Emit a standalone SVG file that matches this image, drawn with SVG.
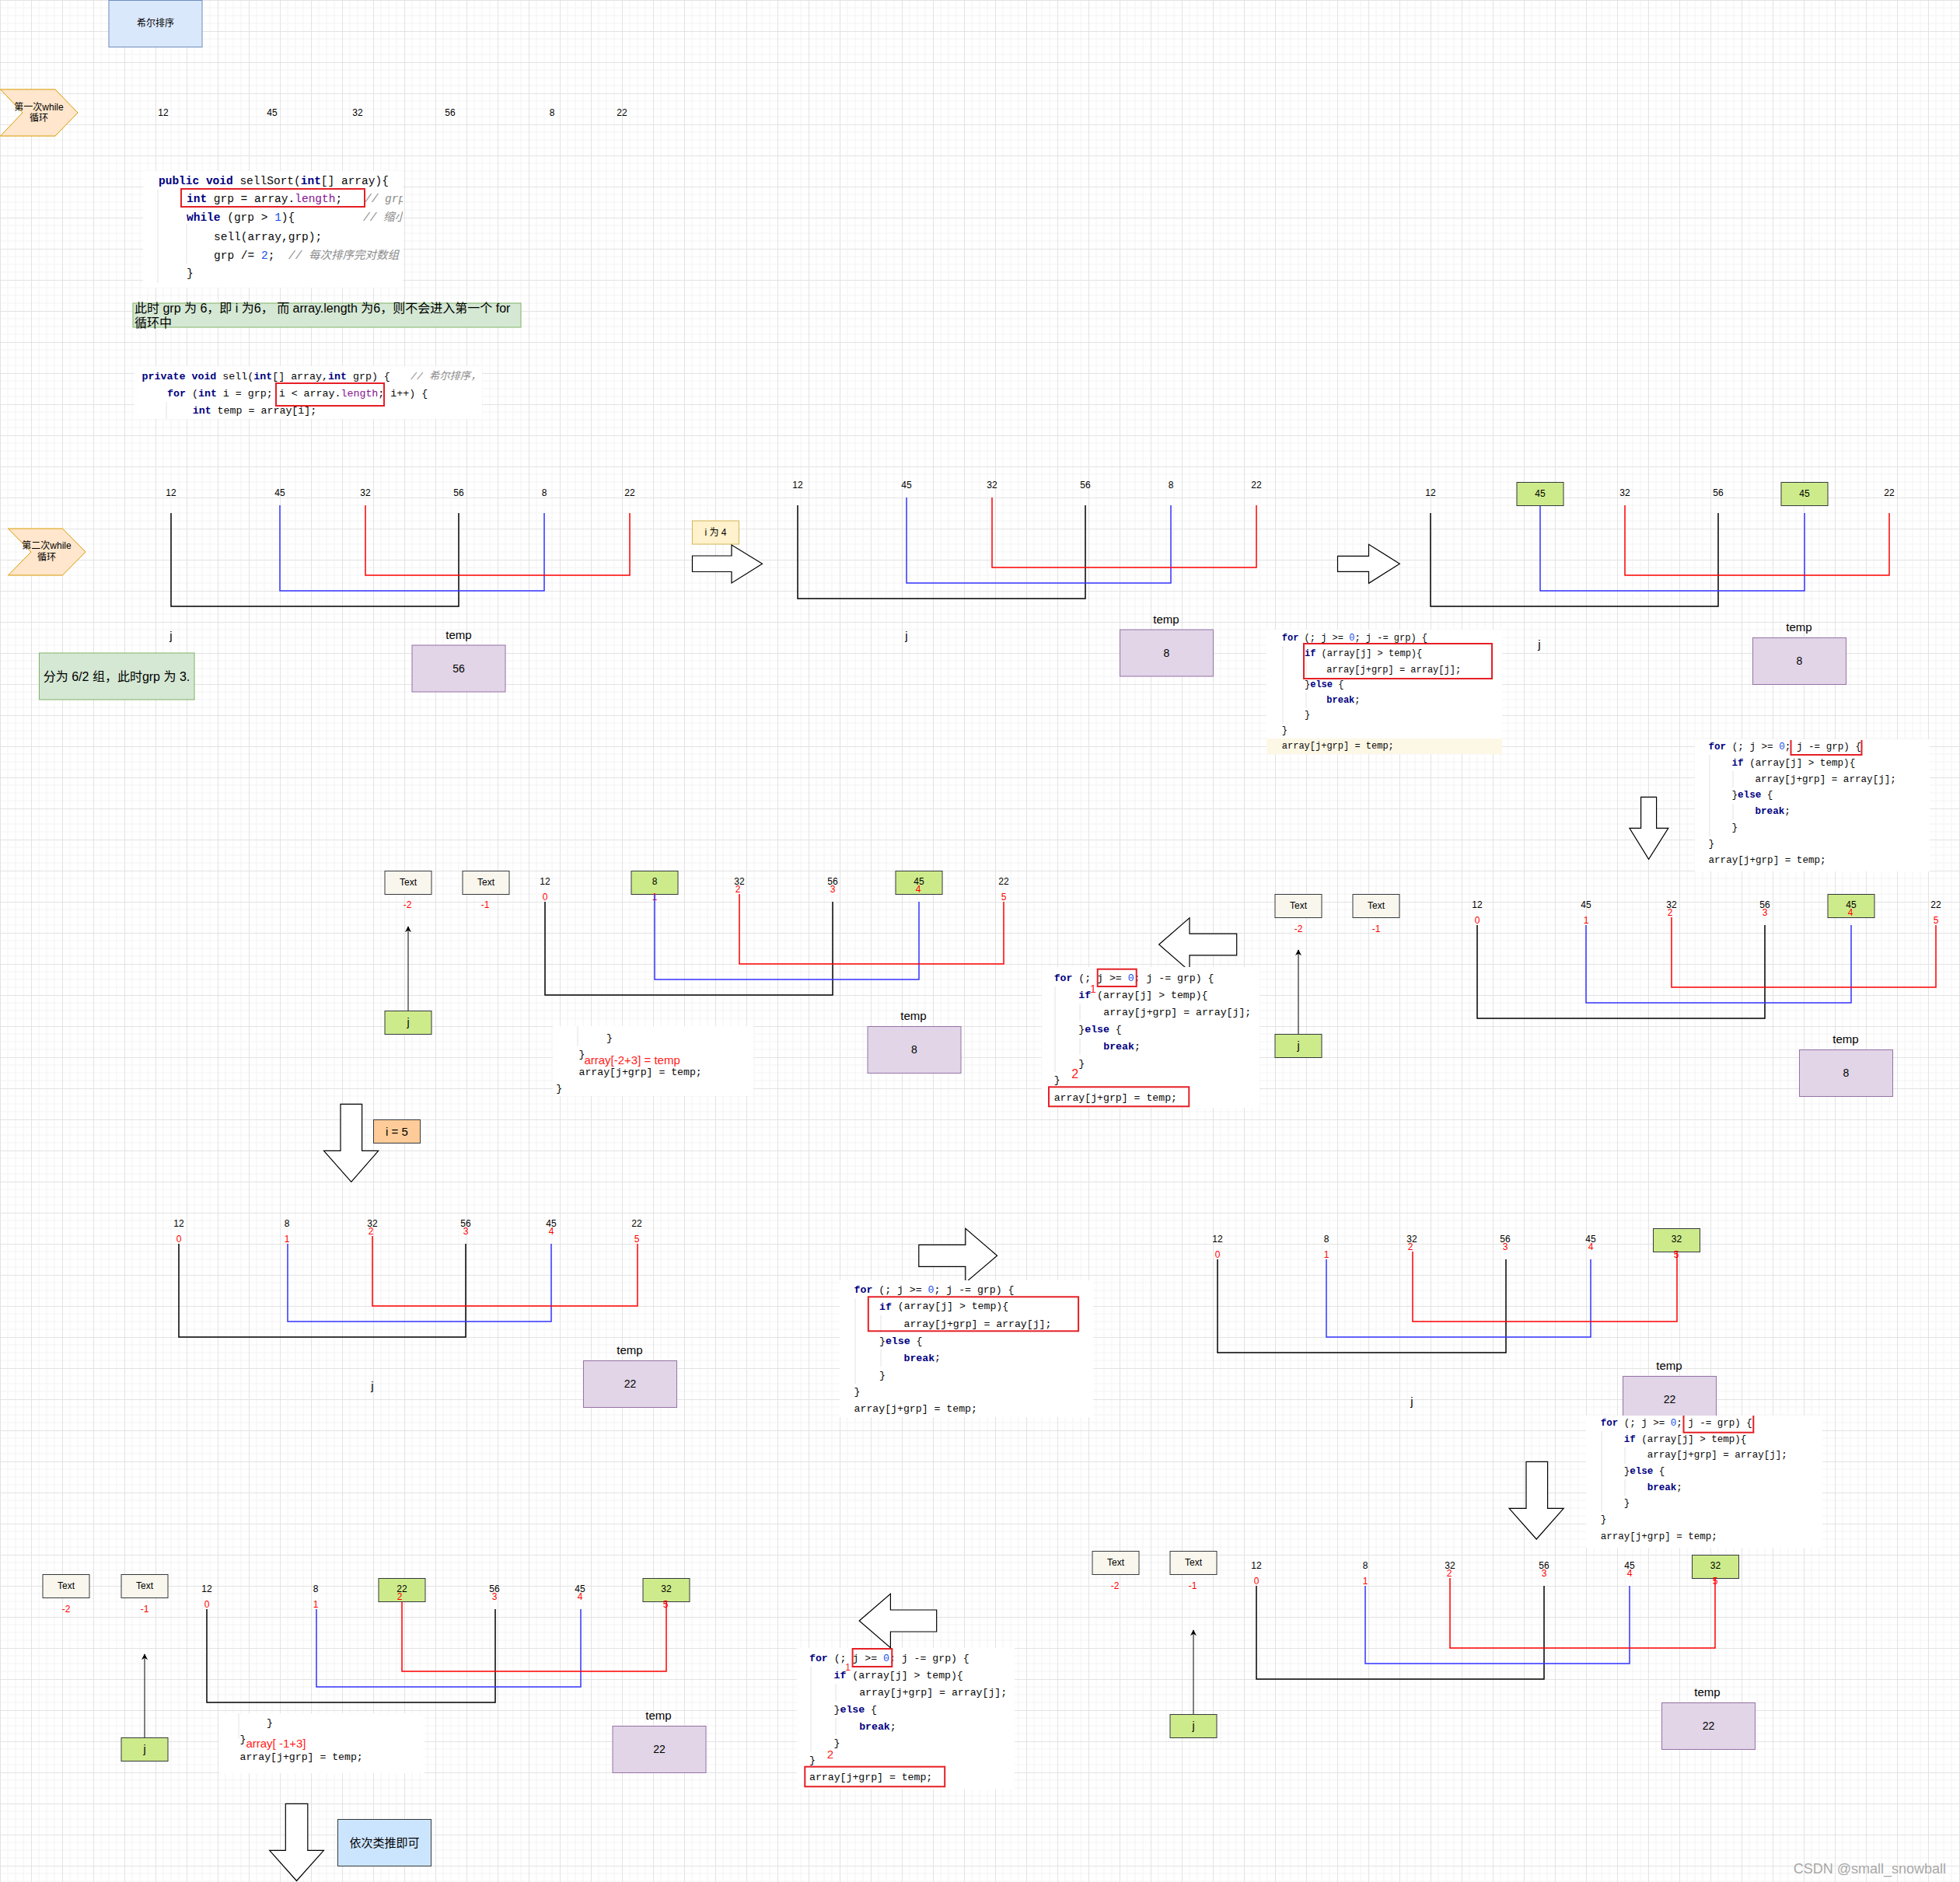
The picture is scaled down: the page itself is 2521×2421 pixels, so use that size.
<svg xmlns="http://www.w3.org/2000/svg" width="2521" height="2421" viewBox="0 0 2521 2421">
<style>
text{font-family:"Liberation Sans","Noto Sans CJK SC",sans-serif;dominant-baseline:central;fill:#000}
.l{font-size:12px;text-anchor:middle}
.ix{font-size:12px;fill:#ff0000;text-anchor:middle}
.lg{font-size:15px;text-anchor:middle}
.v{font-size:14px;text-anchor:middle}
.nt{font-size:16px}
.c{font-family:"Liberation Mono","Noto Sans CJK SC",monospace;fill:#080808;white-space:pre}
.k{fill:#000080;font-weight:bold}
.n{fill:#1750eb}
.p{fill:#871094}
.cm{fill:#8c8c8c;font-style:italic}
.rt{fill:#ff2020}
.tmp{fill:#e1d5e7;stroke:#9673a6}
.gr{fill:#cdeb8b;stroke:#36393d}
.tx{fill:#f9f7ed;stroke:#36393d}
.bk{fill:#fff}
.rb{fill:none;stroke:#e51f25;stroke-width:2}
.arr{fill:#fff;stroke:#000;stroke-width:1.2}
.gd{stroke:#e2e2e2;stroke-width:1;fill:none}
.lk{fill:none;stroke:#000;stroke-width:1.5}
.lb{fill:none;stroke:#3333ff;stroke-width:1.5}
.lr{fill:none;stroke:#ff0000;stroke-width:1.5}
.ln{fill:none;stroke:#000;stroke-width:1}
</style>
<defs>
<pattern id="grid" width="40" height="40" patternUnits="userSpaceOnUse">
<path d="M10 0V40M20 0V40M30 0V40M0 10H40M0 20H40M0 30H40" stroke="#f3f3f3" stroke-width="1" fill="none"/>
<path d="M0.5 0V40M0 0.5H40" stroke="#e3e3e3" stroke-width="1" fill="none"/>
</pattern>
<marker id="ah" viewBox="0 0 10 10" refX="9" refY="5" markerWidth="8" markerHeight="8" markerUnits="userSpaceOnUse" orient="auto"><path d="M0,0 L10,5 L0,10 L3,5 z" fill="#000"/></marker>
<clipPath id="cp1"><rect x="184" y="220" width="334" height="150"/></clipPath>
<clipPath id="cp2"><rect x="173" y="471" width="447" height="68"/></clipPath>
</defs>
<rect width="2521" height="2421" fill="#fff"/>
<rect width="2521" height="2421" fill="url(#grid)"/>

<!-- Title and first while -->
<g id="title"><rect x="140" y="0.5" width="120" height="60" fill="#dae8fc" stroke="#6c8ebf"/><text class="l" x="200" y="30">希尔排序</text></g>
<g id="while1"><path d="M0.5,115 H71 L100,145 L71,175 H0.5 L29,145 Z" fill="#ffe6cc" stroke="#d79b00"/><text class="l" x="50" y="138">第一次while</text><text class="l" x="50" y="152">循环</text></g>
<g id="row1">
<text class="l" x="210" y="145">12</text><text class="l" x="350" y="145">45</text><text class="l" x="460" y="145">32</text><text class="l" x="579" y="145">56</text><text class="l" x="710" y="145">8</text><text class="l" x="800" y="145">22</text>
</g>

<g id="code1">
<rect class="bk" x="184" y="220" width="334" height="150"/>
<path class="gd" d="M240,288V340M203,244V364"/>
<g clip-path="url(#cp1)" font-size="14.5">
<text class="c" x="204" y="232.6"><tspan class="k">public void</tspan> sellSort(<tspan class="k">int</tspan>[] array){</text>
<text class="c" x="240" y="256"><tspan class="k">int</tspan> grp = array.<tspan class="p">length</tspan>;</text>
<text class="c cm" x="469" y="256">// grp</text>
<text class="c" x="240" y="280"><tspan class="k">while</tspan> (grp &gt; <tspan class="n">1</tspan>){</text>
<text class="c cm" x="467" y="280">// 缩小</text>
<text class="c" x="275" y="305">sell(array,grp);</text>
<text class="c" x="275" y="329">grp /= <tspan class="n">2</tspan>;</text>
<text class="c cm" x="371" y="329">// 每次排序完对数组</text>
<text class="c" x="240" y="352">}</text>
</g>
<rect class="rb" x="233" y="243" width="236" height="23"/>
</g>

<g id="note1"><rect x="171" y="390" width="499" height="31" fill="#d5e8d4" stroke="#82b366"/><text class="nt" x="173" y="396">此时 grp 为 6，即 i 为6， 而 array.length 为6，则不会进入第一个 for</text><text class="nt" x="173" y="415.6">循环中</text></g>

<g id="code2">
<rect class="bk" x="173" y="471" width="447" height="68"/>
<path class="gd" d="M214,517V539"/>
<g clip-path="url(#cp2)" font-size="13.3">
<text class="c" x="182.6" y="484"><tspan class="k">private void</tspan> sell(<tspan class="k">int</tspan>[] array,<tspan class="k">int</tspan> grp) {</text>
<text class="c cm" x="528" y="484">// 希尔排序，</text>
<text class="c" x="215" y="506"><tspan class="k">for</tspan> (<tspan class="k">int</tspan> i = grp; i &lt; array.<tspan class="p">length</tspan>; i++) {</text>
<text class="c" x="247.7" y="528"><tspan class="k">int</tspan> temp = array[i];</text>
</g>
<rect class="rb" x="355" y="493" width="139" height="29"/>
</g>

<!-- Row 2 -->
<g id="while2"><path d="M10.5,680 H80.5 L110,710 L80.5,740 H10.5 L40,710 Z" fill="#ffe6cc" stroke="#d79b00"/><text class="l" x="60" y="702">第二次while</text><text class="l" x="60" y="717">循环</text></g>

<g id="r2a">
<text class="l" x="220" y="634">12</text><text class="l" x="360" y="634">45</text><text class="l" x="470" y="634">32</text><text class="l" x="590" y="634">56</text><text class="l" x="700" y="634">8</text><text class="l" x="810" y="634">22</text>
<text class="lg" x="220" y="817">j</text><text class="lg" x="590" y="816">temp</text>
</g>
<g id="r2a-temp"><rect class="tmp" x="530" y="830" width="120" height="60"/><text class="v" x="590" y="860">56</text></g>
<g id="note2"><rect x="50.5" y="840" width="199.5" height="60" fill="#d5e8d4" stroke="#82b366"/><text class="nt" x="150" y="870" text-anchor="middle">分为 6/2 组，此时grp 为 3.</text></g>

<g id="i4"><rect x="890.5" y="670" width="60" height="30" fill="#fff2cc" stroke="#d6b656"/><text class="l" x="920.5" y="685">i 为 4</text></g>
<g id="arrowR1"><path class="arr" d="M890.5,715 H941 V701 L980.5,725.3 L941,750 V735.5 H890.5 Z"/></g>
<g id="r2b">
<text class="l" x="1026" y="624">12</text><text class="l" x="1166" y="624">45</text><text class="l" x="1276" y="624">32</text><text class="l" x="1396" y="624">56</text><text class="l" x="1506" y="624">8</text><text class="l" x="1616" y="624">22</text>
<text class="lg" x="1166" y="817">j</text><text class="lg" x="1500" y="796">temp</text>
</g>
<g id="r2b-temp"><rect class="tmp" x="1440.5" y="810" width="120" height="60"/><text class="v" x="1500.5" y="840">8</text></g>

<g id="arrowR2"><path class="arr" d="M1720.5,715.3 H1760.5 V700.3 L1800.3,725.3 L1760.5,750.3 V735.3 H1720.5 Z"/></g>
<g id="r2c">
<text class="l" x="1840" y="634">12</text><text class="l" x="2090" y="634">32</text><text class="l" x="2210" y="634">56</text><text class="l" x="2430" y="634">22</text>
<text class="lg" x="1980" y="828">j</text><text class="lg" x="2314" y="806">temp</text>
</g>
<g id="r2c-b45a"><rect class="gr" x="1951" y="620.5" width="60" height="30"/><text class="l" x="1981" y="635">45</text></g>
<g id="r2c-b45b"><rect class="gr" x="2291" y="620.5" width="60" height="30"/><text class="l" x="2321" y="635">45</text></g>
<g id="r2c-temp"><rect class="tmp" x="2254.5" y="820.5" width="120" height="60"/><text class="v" x="2314.5" y="850">8</text></g>

<g id="codeA" font-size="12">
<rect class="bk" x="1629" y="810" width="303" height="160"/>
<rect x="1629" y="950" width="303" height="20" fill="#fdf8e6"/>
<path class="gd" d="M1650,831V931M1680,851V872M1680,891V911"/>
<text class="c" x="1648.8" y="821"><tspan class="k">for</tspan> (; j &gt;= <tspan class="n">0</tspan>; j -= grp) {</text>
<text class="c" x="1678" y="841"><tspan class="k">if</tspan> (array[j] &gt; temp){</text>
<text class="c" x="1706.3" y="861.7">array[j+grp] = array[j];</text>
<text class="c" x="1678" y="881">}<tspan class="k">else</tspan> {</text>
<text class="c" x="1706.3" y="901"><tspan class="k">break</tspan>;</text>
<text class="c" x="1678" y="920">}</text>
<text class="c" x="1648.8" y="940">}</text>
<text class="c" x="1648.8" y="960">array[j+grp] = temp;</text>
<rect class="rb" x="1677" y="828" width="242" height="45"/>
</g>

<g id="codeB" font-size="12.6">
<rect class="bk" x="2180" y="951" width="302" height="170"/>
<path class="gd" d="M2199,971V1076M2229,992V1013M2229,1034V1055"/>
<text class="c" x="2197.5" y="961"><tspan class="k">for</tspan> (; j &gt;= <tspan class="n">0</tspan>; j -= grp) {</text>
<text class="c" x="2227.5" y="981.7"><tspan class="k">if</tspan> (array[j] &gt; temp){</text>
<text class="c" x="2257.5" y="1002.7">array[j+grp] = array[j];</text>
<text class="c" x="2227.5" y="1023.3">}<tspan class="k">else</tspan> {</text>
<text class="c" x="2257.5" y="1044.3"><tspan class="k">break</tspan>;</text>
<text class="c" x="2227.5" y="1065">}</text>
<text class="c" x="2197.5" y="1085.7">}</text>
<text class="c" x="2197.5" y="1106.7">array[j+grp] = temp;</text>
<path class="rb" d="M2303.5,952V971H2394.5V952"/>
</g>

<g id="arrowD1"><path class="arr" d="M2110.6,1025.3 H2130.6 V1065.3 H2145.8 L2120.6,1105.3 L2095.9,1065.3 H2110.6 Z"/></g>

<!-- Row 3 right -->
<g id="r3r-t1"><rect class="tx" x="1640" y="1150.5" width="60" height="30"/><text class="l" x="1670" y="1165">Text</text></g>
<g id="r3r-t2"><rect class="tx" x="1740" y="1150.5" width="60" height="30"/><text class="l" x="1770" y="1165">Text</text></g>
<g id="r3r-j"><rect class="gr" x="1640" y="1330.5" width="60" height="30"/><text class="v" x="1670" y="1345">j</text></g>
<g id="r3r">
<text class="ix" x="1670" y="1195">-2</text><text class="ix" x="1770" y="1195">-1</text>
<text class="l" x="1900" y="1164">12</text><text class="l" x="2040" y="1164">45</text><text class="l" x="2150" y="1164">32</text><text class="l" x="2270" y="1164">56</text><text class="l" x="2490" y="1164">22</text>
<text class="lg" x="2374" y="1336">temp</text>
</g>
<g id="r3r-b45"><rect class="gr" x="2351" y="1150.5" width="60" height="30"/><text class="l" x="2381" y="1164">45</text></g>
<g id="r3r-idx"><text class="ix" x="1900" y="1184">0</text><text class="ix" x="2040" y="1184">1</text><text class="ix" x="2148" y="1174">2</text><text class="ix" x="2270" y="1174">3</text><text class="ix" x="2380" y="1174">4</text><text class="ix" x="2490" y="1184">5</text></g>
<g id="r3r-temp"><rect class="tmp" x="2314.5" y="1350.5" width="120" height="60"/><text class="v" x="2374.5" y="1380">8</text></g>

<!-- Row 3 middle -->
<g id="arrowL1"><path class="arr" d="M1490.7,1215 L1530,1180.7 V1201.2 H1590.7 V1228.8 H1530 V1249.3 Z"/></g>
<g id="codeC" font-size="13.2">
<rect class="bk" x="1340" y="1244" width="280" height="181"/>
<path class="gd" d="M1357,1269V1379M1389,1291V1313M1389,1335V1357"/>
<text class="c" x="1355.7" y="1258.3"><tspan class="k">for</tspan> (; j &gt;= <tspan class="n">0</tspan>; j -= grp) {</text>
<text class="c" x="1387.3" y="1280"><tspan class="k">if</tspan> (array[j] &gt; temp){</text>
<text class="c" x="1419.3" y="1302.3">array[j+grp] = array[j];</text>
<text class="c" x="1387.3" y="1324">}<tspan class="k">else</tspan> {</text>
<text class="c" x="1419.3" y="1346"><tspan class="k">break</tspan>;</text>
<text class="c" x="1387.3" y="1368.3">}</text>
<text class="c" x="1355.7" y="1389.3">}</text>
<text class="c" x="1355.7" y="1412.7">array[j+grp] = temp;</text>
<rect class="rb" x="1411.7" y="1246.7" width="50" height="22.3"/>
<text class="rt" x="1406" y="1272" font-size="14" text-anchor="middle">1</text>
<text class="rt" x="1382.7" y="1381" font-size="16" text-anchor="middle">2</text>
<rect class="rb" x="1349" y="1398.3" width="180.3" height="25"/>
</g>

<!-- Row 3 left -->
<g id="r3l-t1"><rect class="tx" x="495" y="1120.5" width="60" height="30"/><text class="l" x="525" y="1135">Text</text></g>
<g id="r3l-t2"><rect class="tx" x="595" y="1120.5" width="60" height="30"/><text class="l" x="625" y="1135">Text</text></g>
<g id="r3l-j"><rect class="gr" x="495" y="1300.5" width="60" height="30"/><text class="v" x="525" y="1315">j</text></g>
<g id="r3l">
<text class="ix" x="524" y="1164">-2</text><text class="ix" x="624" y="1164">-1</text>
<text class="l" x="701" y="1134">12</text><text class="l" x="951" y="1134">32</text><text class="l" x="1071" y="1134">56</text><text class="l" x="1291" y="1134">22</text>
<text class="lg" x="1175" y="1306">temp</text>
</g>
<g id="r3l-b8"><rect class="gr" x="812" y="1120.5" width="60" height="30"/><text class="l" x="842" y="1134">8</text></g>
<g id="r3l-b45"><rect class="gr" x="1152" y="1120.5" width="60" height="30"/><text class="l" x="1182" y="1134">45</text></g>
<g id="r3l-idx"><text class="ix" x="701" y="1154">0</text><text class="ix" x="842" y="1154">1</text><text class="ix" x="949" y="1144">2</text><text class="ix" x="1071" y="1144">3</text><text class="ix" x="1181" y="1144">4</text><text class="ix" x="1291" y="1154">5</text></g>
<g id="r3l-temp"><rect class="tmp" x="1116" y="1320.5" width="120" height="60"/><text class="v" x="1176" y="1350">8</text></g>
<g id="codeD" font-size="13.2">
<rect class="bk" x="711" y="1320" width="258" height="90"/>
<path class="gd" d="M743,1320V1346"/>
<text class="c" x="780" y="1335">}</text>
<text class="c" x="744.5" y="1356.7">}</text>
<text class="rt" x="751.4" y="1363.3" font-size="15">array[-2+3] = temp</text>
<text class="c" x="744.5" y="1379.3">array[j+grp] = temp;</text>
<text class="c" x="715.2" y="1400">}</text>
</g>

<!-- Row 3 to 4 -->
<g id="arrowD2"><path class="arr" d="M438,1420.3 H465.6 V1480.3 H486.7 L451.8,1520.3 L416.5,1480.3 H438 Z"/></g>
<g id="i5"><rect x="480.5" y="1440.5" width="60" height="30" fill="#ffcc99" stroke="#36393d"/><text class="lg" x="510.5" y="1455">i = 5</text></g>

<!-- Row 4 left -->
<g id="r4l">
<text class="l" x="230" y="1574">12</text><text class="l" x="369" y="1574">8</text><text class="l" x="479" y="1574">32</text><text class="l" x="599" y="1574">56</text><text class="l" x="709" y="1574">45</text><text class="l" x="819" y="1574">22</text>
<text class="ix" x="230" y="1594">0</text><text class="ix" x="369" y="1594">1</text><text class="ix" x="477" y="1584">2</text><text class="ix" x="599" y="1584">3</text><text class="ix" x="709" y="1584">4</text><text class="ix" x="819" y="1594">5</text>
<text class="lg" x="479" y="1782">j</text><text class="lg" x="810" y="1736">temp</text>
</g>
<g id="r4l-temp"><rect class="tmp" x="750.5" y="1750.5" width="120" height="60"/><text class="v" x="810.5" y="1780">22</text></g>

<!-- Row 4 middle -->
<g id="arrowR3"><path class="arr" d="M1181.8,1601.3 H1241.8 V1580.3 L1282.5,1615.3 L1241.8,1650 V1629.3 H1181.8 Z"/></g>
<g id="codeE" font-size="13.2">
<rect class="bk" x="1080" y="1647" width="326" height="176"/>
<path class="gd" d="M1100,1670V1780M1133,1692V1714M1133,1736V1758"/>
<text class="c" x="1098.6" y="1659.3"><tspan class="k">for</tspan> (; j &gt;= <tspan class="n">0</tspan>; j -= grp) {</text>
<text class="c" x="1131" y="1680.7"><tspan class="k">if</tspan> (array[j] &gt; temp){</text>
<text class="c" x="1162.5" y="1703">array[j+grp] = array[j];</text>
<text class="c" x="1131" y="1725">}<tspan class="k">else</tspan> {</text>
<text class="c" x="1162.5" y="1746.7"><tspan class="k">break</tspan>;</text>
<text class="c" x="1131" y="1769">}</text>
<text class="c" x="1098.6" y="1790">}</text>
<text class="c" x="1098.6" y="1812.7">array[j+grp] = temp;</text>
<rect class="rb" x="1116.8" y="1668.3" width="270.3" height="44"/>
</g>

<!-- Row 4 right -->
<g id="r4r">
<text class="l" x="1566" y="1594">12</text><text class="l" x="1706" y="1594">8</text><text class="l" x="1816" y="1594">32</text><text class="l" x="1936" y="1594">56</text><text class="l" x="2046" y="1594">45</text>
<text class="lg" x="1816" y="1802">j</text><text class="lg" x="2147" y="1756">temp</text>
</g>
<g id="r4r-b32"><rect class="gr" x="2126.5" y="1580.5" width="60" height="30"/><text class="l" x="2156.5" y="1594">32</text></g>
<g id="r4r-idx"><text class="ix" x="1566" y="1614">0</text><text class="ix" x="1706" y="1614">1</text><text class="ix" x="1814" y="1604">2</text><text class="ix" x="1936" y="1604">3</text><text class="ix" x="2046" y="1604">4</text><text class="ix" x="2156" y="1614">5</text></g>
<g id="r4r-temp"><rect class="tmp" x="2087.5" y="1770.5" width="120" height="60"/><text class="v" x="2147.5" y="1800">22</text></g>
<g id="codeF" font-size="12.5">
<rect class="bk" x="2040" y="1821" width="304" height="170"/>
<path class="gd" d="M2060,1841V1945M2090,1862V1883M2090,1903V1924"/>
<text class="c" x="2058.8" y="1830.7"><tspan class="k">for</tspan> (; j &gt;= <tspan class="n">0</tspan>; j -= grp) {</text>
<text class="c" x="2088.8" y="1851.7"><tspan class="k">if</tspan> (array[j] &gt; temp){</text>
<text class="c" x="2118.8" y="1872.3">array[j+grp] = array[j];</text>
<text class="c" x="2088.8" y="1892.7">}<tspan class="k">else</tspan> {</text>
<text class="c" x="2118.8" y="1914"><tspan class="k">break</tspan>;</text>
<text class="c" x="2088.8" y="1934.3">}</text>
<text class="c" x="2058.8" y="1955.3">}</text>
<text class="c" x="2058.8" y="1976.7">array[j+grp] = temp;</text>
<path class="rb" d="M2165.5,1821V1842.7H2255.3V1821"/>
</g>
<g id="arrowD3"><path class="arr" d="M1963,1880.3 H1990.6 V1940.3 H2011.2 L1976.2,1980 L1941.1,1940.3 H1963 Z"/></g>

<!-- Row 5 right -->
<g id="r5r-t1"><rect class="tx" x="1405" y="1995.5" width="60" height="30"/><text class="l" x="1435" y="2010">Text</text></g>
<g id="r5r-t2"><rect class="tx" x="1505" y="1995.5" width="60" height="30"/><text class="l" x="1535" y="2010">Text</text></g>
<g id="r5r-j"><rect class="gr" x="1505" y="2205.5" width="60" height="30"/><text class="v" x="1535" y="2220">j</text></g>
<g id="r5r">
<text class="ix" x="1434" y="2040">-2</text><text class="ix" x="1534" y="2040">-1</text>
<text class="l" x="1616" y="2014">12</text><text class="l" x="1756" y="2014">8</text><text class="l" x="1865" y="2014">32</text><text class="l" x="1986" y="2014">56</text><text class="l" x="2096" y="2014">45</text>
<text class="lg" x="2196" y="2176">temp</text>
</g>
<g id="r5r-b32"><rect class="gr" x="2176.5" y="2000.5" width="60" height="30"/><text class="l" x="2206.5" y="2014">32</text></g>
<g id="r5r-idx"><text class="ix" x="1616" y="2034">0</text><text class="ix" x="1756" y="2034">1</text><text class="ix" x="1864" y="2024">2</text><text class="ix" x="1986" y="2024">3</text><text class="ix" x="2096" y="2024">4</text><text class="ix" x="2206" y="2034">5</text></g>
<g id="r5r-temp"><rect class="tmp" x="2137.5" y="2190.5" width="120" height="60"/><text class="v" x="2197.5" y="2220">22</text></g>

<!-- Row 5 middle -->
<g id="arrowL2"><path class="arr" d="M1105.2,2085 L1145.4,2050.3 V2071 H1204.7 V2099 H1145.4 V2119.7 Z"/></g>
<g id="codeG" font-size="13.2">
<rect class="bk" x="1025" y="2120" width="280" height="182"/>
<path class="gd" d="M1043,2144V2253M1075,2166V2189M1075,2210V2232"/>
<text class="c" x="1041" y="2133.3"><tspan class="k">for</tspan> (; j &gt;= <tspan class="n">0</tspan>; j -= grp) {</text>
<text class="c" x="1072.6" y="2155"><tspan class="k">if</tspan> (array[j] &gt; temp){</text>
<text class="c" x="1105.2" y="2177.7">array[j+grp] = array[j];</text>
<text class="c" x="1072.6" y="2199">}<tspan class="k">else</tspan> {</text>
<text class="c" x="1105.2" y="2221"><tspan class="k">break</tspan>;</text>
<text class="c" x="1072.6" y="2242.3">}</text>
<text class="c" x="1041" y="2264.3">}</text>
<text class="c" x="1041" y="2286.7">array[j+grp] = temp;</text>
<rect class="rb" x="1096.6" y="2121" width="50.7" height="23"/>
<text class="rt" x="1090.5" y="2145" font-size="12" text-anchor="middle">1</text>
<text class="rt" x="1067.8" y="2256.7" font-size="15" text-anchor="middle">2</text>
<rect class="rb" x="1035.3" y="2272.7" width="179.9" height="25.6"/>
</g>

<!-- Row 5 left -->
<g id="r5l-t1"><rect class="tx" x="55" y="2025.5" width="60" height="30"/><text class="l" x="85" y="2040">Text</text></g>
<g id="r5l-t2"><rect class="tx" x="156" y="2025.5" width="60" height="30"/><text class="l" x="186" y="2040">Text</text></g>
<g id="r5l-j"><rect class="gr" x="156" y="2235.5" width="60" height="30"/><text class="v" x="186" y="2250">j</text></g>
<g id="r5l">
<text class="ix" x="85" y="2070">-2</text><text class="ix" x="186" y="2070">-1</text>
<text class="l" x="266" y="2044">12</text><text class="l" x="406" y="2044">8</text><text class="l" x="636" y="2044">56</text><text class="l" x="746" y="2044">45</text>
<text class="lg" x="847" y="2206">temp</text>
</g>
<g id="r5l-b22"><rect class="gr" x="487" y="2030.5" width="60" height="30"/><text class="l" x="517" y="2044">22</text></g>
<g id="r5l-b32"><rect class="gr" x="827" y="2030.5" width="60" height="30"/><text class="l" x="857" y="2044">32</text></g>
<g id="r5l-idx"><text class="ix" x="266" y="2064">0</text><text class="ix" x="406" y="2064">1</text><text class="ix" x="514" y="2054">2</text><text class="ix" x="636" y="2054">3</text><text class="ix" x="746" y="2054">4</text><text class="ix" x="856" y="2064">5</text></g>
<g id="r5l-temp"><rect class="tmp" x="788" y="2220.5" width="120" height="60"/><text class="v" x="848" y="2250">22</text></g>
<g id="codeH" font-size="13.2">
<rect class="bk" x="282" y="2204" width="264" height="77"/>
<path class="gd" d="M307,2204V2237"/>
<text class="c" x="343" y="2216">}</text>
<text class="c" x="308.5" y="2237.7">}</text>
<text class="rt" x="316.4" y="2242.3" font-size="15">array[ -1+3]</text>
<text class="c" x="308.5" y="2260.3">array[j+grp] = temp;</text>
</g>
<g id="arrowD4"><path class="arr" d="M367.3,2320.3 H395.8 V2380.3 H416.4 L381.5,2419.5 L346.7,2380.3 H367.3 Z"/></g>
<g id="end"><rect x="434.5" y="2340.5" width="120" height="60" fill="#cce5ff" stroke="#36393d"/><text class="lg" x="494.5" y="2370">依次类推即可</text></g>

<!-- Connectors -->
<g id="connectors">
<path class="lk" d="M220,660V780H590V660"/>
<path class="lb" d="M360,650V760H700V660"/>
<path class="lr" d="M470,650V740H810V660"/>
<path class="lk" d="M1026,650V770H1396V650"/>
<path class="lb" d="M1166,640V750H1506V650"/>
<path class="lr" d="M1276,640V730H1616V650"/>
<path class="lk" d="M1840,660V780H2210V660"/>
<path class="lb" d="M1981,650.5V760H2321V660"/>
<path class="lr" d="M2090,650V740H2430V660"/>
<path class="lk" d="M1900,1190V1310H2270V1190"/>
<path class="lb" d="M2040,1190V1290H2381V1190"/>
<path class="lr" d="M2150,1180V1270H2490V1190"/>
<path class="ln" d="M1670,1330V1222" marker-end="url(#ah)"/>
<path class="lk" d="M701,1160V1280H1071V1160"/>
<path class="lb" d="M842,1150.5V1260H1182V1160"/>
<path class="lr" d="M951,1150V1240H1291V1160"/>
<path class="ln" d="M525,1300V1192" marker-end="url(#ah)"/>
<path class="lk" d="M230,1600V1720H599V1600"/>
<path class="lb" d="M370,1600V1700H709V1600"/>
<path class="lr" d="M479,1590V1680H820V1600"/>
<path class="lk" d="M1566,1620V1740H1937V1620"/>
<path class="lb" d="M1706,1620V1720H2046V1620"/>
<path class="lr" d="M1817,1610V1700H2157V1610.5"/>
<path class="lk" d="M1616,2040V2160H1986V2040"/>
<path class="lb" d="M1756,2040V2140H2096V2040"/>
<path class="lr" d="M1865,2030V2120H2206V2030.5"/>
<path class="ln" d="M1535,2205V2097" marker-end="url(#ah)"/>
<path class="lk" d="M266,2070V2190H637V2070"/>
<path class="lb" d="M407,2070V2170H747V2070"/>
<path class="lr" d="M517,2060.5V2150H857V2060.5"/>
<path class="ln" d="M186,2235V2128" marker-end="url(#ah)"/>
</g>

<text x="2503" y="2404" font-size="18" text-anchor="end" fill="#a8a8a8" style="fill:#a8a8a8">CSDN @small_snowball</text>
</svg>
